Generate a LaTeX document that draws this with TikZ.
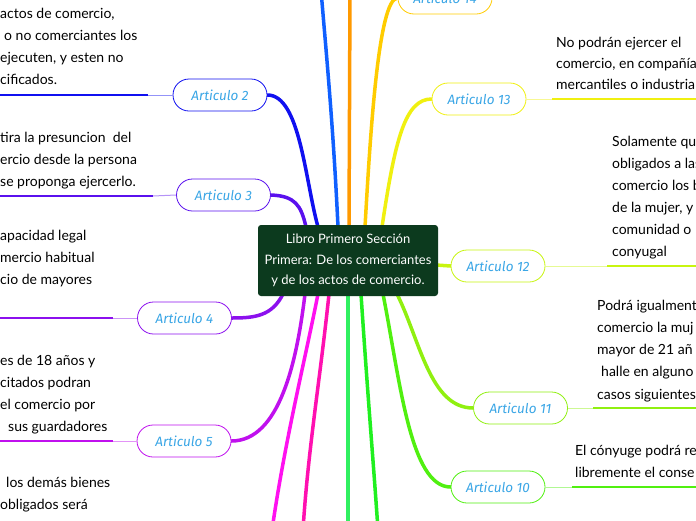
\documentclass[tikz,border=0pt]{standalone}
\usepackage{fontspec}
\setmainfont{Lato}
\newfontfamily\labelfont{Fira Sans}
\usetikzlibrary{backgrounds}
\definecolor{cA2}{HTML}{1010F0}
\definecolor{cA3}{HTML}{5A10EE}
\definecolor{cA4}{HTML}{8C10EE}
\definecolor{cA5}{HTML}{C010EE}
\definecolor{cMag}{HTML}{FF10F0}
\definecolor{cPink}{HTML}{FF10B0}
\definecolor{cGa}{HTML}{30F060}
\definecolor{cGb}{HTML}{20F020}
\definecolor{cA10}{HTML}{50F010}
\definecolor{cA11}{HTML}{90F010}
\definecolor{cA12}{HTML}{C8F510}
\definecolor{cA13}{HTML}{F0F010}
\definecolor{cA14}{HTML}{FFCC00}
\definecolor{cOr}{HTML}{FF9900}
\definecolor{cBl}{HTML}{1060FF}
\definecolor{centre}{HTML}{0C3A1E}
\definecolor{lblue}{HTML}{3AA6E6}
\begin{document}
\begin{tikzpicture}[x=1pt,y=-1pt,
  art/.style={draw=#1, line width=0.8pt, rounded corners=16pt, fill=white,
    minimum width=94pt, minimum height=32pt, inner sep=0pt,
    font=\labelfont\itshape\fontsize{13.5}{15}\selectfont, text=lblue},
  branch/.style={draw=#1, line width=3.5pt, line cap=round},
  ulthick/.style={draw=#1, line width=2pt},
  ulthin/.style={draw=#1!45, line width=1pt},
  body/.style={anchor=north west, inner sep=0pt, align=left,
    font=\fontsize{14}{22.3}\selectfont, text=black},
]
\useasboundingbox (0,0) rectangle (696,520);

% central topic
\node[fill=centre, rounded corners=3pt, minimum width=180pt, minimum height=71pt,
  text=white, align=center, font=\fontsize{13}{20.5}\selectfont, inner sep=0pt]
  (c) at (348,260.5) {Libro Primero Sección\\Primera: De los comerciantes\\y de los actos de comercio.};

% article nodes
\node[art=cA2] (a2) at (220,95) {Articulo 2};
\node[art=cA3] (a3) at (223.5,195) {Articulo 3};
\node[art=cA4] (a4) at (184.5,318) {Articulo 4};
\node[art=cA5] (a5) at (184,441) {Articulo 5};
\node[art=cA14] (a14) at (445,-2) {Articulo 14};
\node[art=cA13] (a13) at (479,99) {Articulo 13};
\node[art=cA12] (a12) at (498,266) {Articulo 12};
\node[art=cA11] (a11) at (520.5,408) {Articulo 11};
\node[art=cA10] (a10) at (498,487) {Articulo 10};

% anchor points on the central topic
\coordinate (s3) at (306,227);
\coordinate (s2) at (318,227);
\coordinate (sB) at (338,227);
\coordinate (sO) at (349,227);
\coordinate (s14) at (365,227);
\coordinate (s13) at (382,227);
\coordinate (s12) at (436,265);
\coordinate (s4) at (283,294);
\coordinate (s5) at (305,294);
\coordinate (sM) at (318,294);
\coordinate (sP) at (329,294);
\coordinate (sGa) at (348,294);
\coordinate (sGb) at (361,294);
\coordinate (s10) at (383,294);
\coordinate (s11) at (397,294);
% free ends off the page
\coordinate (eB) at (321,-10);
\coordinate (eO) at (350,-10);
\coordinate (eM) at (272,530);
\coordinate (eP) at (303,530);
\coordinate (eGa) at (348,530);
\coordinate (eGb) at (378,530);

\begin{scope}[on background layer]
\fill[white] (0,0) rectangle (696,520);
\draw[branch=cA2] (a2.east) .. controls (300,95) and (305,180) .. (s2);
\draw[branch=cA3] (a3.east) .. controls (295,196) and (301,205) .. (s3);
\draw[branch=cBl] (sB) .. controls (333,120) and (325,40) .. (eB);
\draw[branch=cOr] (sO) -- (eO);
\draw[branch=cA14] (s14) .. controls (370,140) and (378,-2) .. (a14.west);
\draw[branch=cA13] (s13) .. controls (395,140) and (405,99) .. (a13.west);
\draw[branch=cA12] (s12) -- (a12.west);
\draw[branch=cA4] (s4) .. controls (272,316) and (255,318) .. (a4.east);
\draw[branch=cA5] (s5) .. controls (297,360) and (280,441) .. (a5.east);
\draw[branch=cMag] (sM) .. controls (305,360) and (285,440) .. (eM);
\draw[branch=cPink] (sP) .. controls (320,380) and (308,450) .. (eP);
\draw[branch=cGa] (sGa) -- (eGa);
\draw[branch=cGb] (sGb) .. controls (368,400) and (374,470) .. (eGb);
\draw[branch=cA10] (s10) .. controls (400,380) and (410,487) .. (a10.west);
\draw[branch=cA11] (s11) .. controls (420,340) and (430,408) .. (a11.west);
\end{scope}

% underlines
\coordinate (u2) at (148,95);   \coordinate (v2) at (0,95);
\coordinate (u3) at (153,196);  \coordinate (v3) at (0,196);
\coordinate (u4) at (113,318);  \coordinate (v4) at (0,318);
\coordinate (u5) at (113,441);  \coordinate (v5) at (0,441);
\coordinate (u13) at (552,99);  \coordinate (v13) at (696,99);
\coordinate (u12) at (607,266); \coordinate (v12) at (696,266);
\coordinate (u11) at (593,408); \coordinate (v11) at (696,408);
\coordinate (u10) at (572,487); \coordinate (v10) at (696,487);
\draw[ulthin=cA2] (a2.west) -- (u2);   \draw[ulthick=cA2] (u2) -- (v2);
\draw[ulthin=cA3] (a3.west) -- (u3);   \draw[ulthick=cA3] (u3) -- (v3);
\draw[ulthin=cA4] (a4.west) -- (u4);   \draw[ulthick=cA4] (u4) -- (v4);
\draw[ulthin=cA5] (a5.west) -- (u5);   \draw[ulthick=cA5] (u5) -- (v5);
\draw[ulthin=cA13] (a13.east) -- (u13); \draw[ulthick=cA13] (u13) -- (v13);
\draw[ulthin=cA12] (a12.east) -- (u12); \draw[ulthick=cA12] (u12) -- (v12);
\draw[ulthin=cA11] (a11.east) -- (u11); \draw[ulthick=cA11] (u11) -- (v11);
\draw[ulthin=cA10] (a10.east) -- (u10); \draw[ulthick=cA10] (u10) -- (v10);

% texts
\node[body] (x2) at (0,7.5) {actos de comercio,\\\hspace{4pt}o no comerciantes los\\ejecuten, y esten no\\cificados.};
\node[body] (x3) at (0,131.5) {tira la presuncion\ \ del\\ercio desde la persona\\se proponga ejercerlo.};
\node[body] (x4) at (0,229.5) {apacidad legal\\mercio habitual\\cio de mayores};
\node[body] (x5) at (0,354.5) {es de 18 años y\\citados podran\\el comercio por\\\hspace{8pt}sus guardadores};
\node[body] (x6) at (0,476.5) {\hspace{6pt}los demás bienes\\obligados será};
\node[body,font=\fontsize{14}{21}\selectfont] (x13) at (556,36.5) {No podrán ejercer el\\comercio, en compañía\\mercantiles o industria};
\node[body,font=\fontsize{14}{22}\selectfont] (x12) at (612,135.5) {Solamente qu\\obligados a las\\comercio los b\\de la mujer, y\\comunidad o\\conyugal};
\node[body] (x11) at (597,299.5) {Podrá igualment\\comercio la muj\\mayor de 21 añ\\\hspace{4pt}halle en alguno\\casos siguientes};
\node[body,font=\fontsize{14}{22}\selectfont] (x10) at (575,444.5) {El cónyuge podrá re\\libremente el conse};
\end{tikzpicture}
\end{document}
